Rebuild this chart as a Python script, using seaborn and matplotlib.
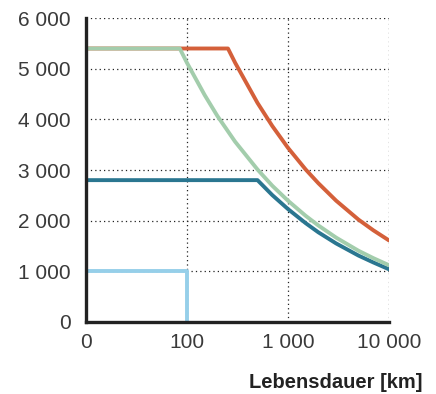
import matplotlib
matplotlib.use('Agg')
import matplotlib.pyplot as plt
import seaborn as sns
import pandas as pd

# Werte
x_orange = [10, 255, 300, 500, 700, 1000, 1500, 2000, 3000, 5000, 7000, 10000]
y_orange = [5400, 5400, 5120, 4325, 3870, 3440, 3010, 2740, 2395, 2020, 1810, 1610]

x_teal = [10, 500, 700, 1000, 1500, 2000, 3000, 5000, 7000, 10000]
y_teal = [2800, 2800, 2505, 2230, 1950, 1770, 1550, 1310, 1175, 1040]

x_green = [10, 85, 100, 150, 200, 300, 500, 700, 1000, 1500, 2000, 3000, 5000, 7000, 10000]
y_green = [5400, 5400, 5120, 4480, 4070, 3560, 3010, 2690, 2395, 2095, 1905, 1665, 1405, 1260, 1120]

x_blue = [10, 100, 100]
y_blue = [1000, 1000, 0]

x_ticks = [10, 100, 1000, 10000]
x_ticklabels = ['0', '100', '1 000', '10 000']
y_ticks = [0, 1000, 2000, 3000, 4000, 5000, 6000]
y_ticklabels = ['0', '1 000', '2 000', '3 000', '4 000', '5 000', '6 000']

sns.set_theme(style='white')
plt.rcParams['font.family'] = ['Liberation Sans', 'DejaVu Sans']

fig = plt.figure(figsize=(4.36, 3.94), dpi=100)
ax = fig.add_axes([0.197, 0.183, 0.695, 0.771])

series = [
    (x_orange, y_orange, '#d4603a'),
    (x_teal, y_teal, '#2a7690'),
    (x_green, y_green, '#a3cdac'),
    (x_blue, y_blue, '#96cfe9'),
]
for xs, ys, col in series:
    df = pd.DataFrame({'x': xs, 'y': ys})
    sns.lineplot(data=df, x='x', y='y', ax=ax, color=col, linewidth=2.8,
                 sort=False, estimator=None)

ax.set_xscale('log')
ax.set_xlim(10, 10000)
ax.set_ylim(0, 6000)
ax.set_xticks(x_ticks)
ax.set_xticklabels(x_ticklabels)
ax.minorticks_off()
ax.set_yticks(y_ticks)
ax.set_yticklabels(y_ticklabels)
ax.tick_params(axis='both', length=0, labelsize=15, labelcolor='#3a3a3a')
ax.tick_params(axis='y', pad=11)
ax.tick_params(axis='x', pad=8)
ax.set_xlabel('')
ax.set_ylabel('')

ax.grid(True, color='#222222', linestyle=(0, (1, 2.5)), linewidth=0.9)
ax.set_axisbelow(True)
for side in ['top', 'right']:
    ax.spines[side].set_visible(False)
for side in ['left', 'bottom']:
    ax.spines[side].set_color('#222222')
    ax.spines[side].set_linewidth(2.4)

fig.text(0.968, 0.03, 'Lebensdauer [km]', ha='right', va='center',
         fontsize=14.5, fontweight='bold', color='#222222')

fig.savefig('out.png', dpi=100)
